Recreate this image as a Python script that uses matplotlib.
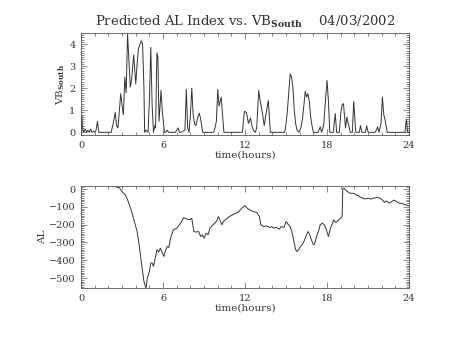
import matplotlib
matplotlib.use("Agg")
import matplotlib.pyplot as plt
from matplotlib.ticker import MultipleLocator

# Southward IMF-driven coupling term VB_south (hours, value)
vb_time = [0.00, 0.05, 0.10, 0.18, 0.30, 0.40, 0.50, 0.60, 0.70, 0.80, 0.90, 1.00,
           1.10, 1.20, 1.30, 1.50, 2.20, 2.35, 2.50, 2.60, 2.70, 2.90, 3.00, 3.10,
           3.20, 3.30, 3.40, 3.50, 3.60, 3.70, 3.85, 4.00, 4.10, 4.20, 4.40, 4.50,
           4.60, 4.65, 4.75, 4.90, 5.00, 5.10, 5.20, 5.30, 5.40, 5.45, 5.55, 5.62,
           5.70, 5.78, 5.85, 5.95, 6.10, 6.20, 6.30, 6.40, 6.90, 7.10, 7.20, 7.30,
           7.60, 7.70, 7.80, 7.90, 8.00, 8.10, 8.20, 8.30, 8.40, 8.55, 8.65, 8.75,
           8.90, 9.00, 9.70, 9.80, 9.90, 10.00, 10.10, 10.25, 10.35, 10.45, 10.60,
           11.80, 11.95, 12.10, 12.25, 12.40, 12.50, 12.60, 12.75, 12.85, 13.00,
           13.10, 13.25, 13.40, 13.55, 13.70, 13.85, 14.00, 14.90, 15.00, 15.10,
           15.20, 15.30, 15.40, 15.50, 15.60, 15.70, 15.80, 15.95, 16.10, 16.20,
           16.30, 16.40, 16.50, 16.60, 16.70, 16.80, 16.90, 17.00, 17.35, 17.50,
           17.60, 17.75, 17.90, 18.00, 18.10, 18.20, 18.45, 18.60, 18.70, 18.90,
           19.00, 19.10, 19.20, 19.35, 19.45, 19.55, 19.70, 19.85, 19.95, 20.10,
           20.35, 20.45, 20.55, 20.80, 20.90, 21.00, 21.50, 21.60, 21.70, 21.80,
           21.95, 22.05, 22.15, 22.25, 22.40, 22.55, 23.70, 23.80, 23.90, 24.00]
vb_value = [0.00, 0.80, 0.20, 0.00, 0.15, 0.00, 0.10, 0.00, 0.15, 0.00, 0.05, 0.00,
            0.10, 0.50, 0.00, 0.00, 0.00, 0.40, 0.90, 0.30, 0.20, 1.75, 1.20, 0.80,
            2.50, 1.80, 4.45, 3.20, 2.05, 2.40, 3.50, 2.20, 3.10, 3.80, 4.15, 4.00,
            2.00, 0.00, 0.10, 0.00, 1.50, 3.85, 1.20, 0.00, 0.30, 0.20, 3.60, 3.40,
            0.50, 1.20, 1.90, 0.90, 0.00, 0.00, 0.10, 0.00, 0.00, 0.20, 0.00, 0.00,
            0.10, 1.95, 0.20, 0.00, 0.80, 2.00, 0.80, 0.40, 0.30, 0.70, 0.87, 0.60,
            0.00, 0.00, 0.00, 0.20, 0.50, 1.95, 1.20, 1.60, 0.80, 0.00, 0.00,
            0.00, 0.95, 0.90, 0.40, 0.65, 0.30, 0.10, 0.00, 0.20, 1.90,
            1.45, 0.95, 0.30, 0.90, 1.45, 0.00, 0.00, 0.00, 0.40, 1.00,
            1.80, 2.65, 2.50, 2.05, 1.00, 0.40, 0.10, 0.00, 0.25, 0.60,
            1.20, 1.85, 1.60, 1.75, 1.40, 0.70, 0.30, 0.00, 0.00, 0.25,
            0.00, 0.30, 1.60, 2.35, 1.40, 0.00, 0.00, 0.85, 0.00, 0.00,
            0.85, 1.25, 1.30, 0.20, 0.70, 0.40, 0.00, 0.00, 1.40, 0.00,
            0.00, 0.30, 0.00, 0.00, 0.30, 0.00, 0.00, 0.10, 0.25, 0.00,
            0.40, 1.60, 0.80, 0.55, 0.00, 0.00, 0.00, 0.60, 0.00, 0.00]

# Predicted AL index (hours, nT)
al_time = [2.45, 2.65, 2.80, 3.00, 3.25, 3.45, 3.70, 3.90, 4.10, 4.25, 4.40, 4.60,
           4.75, 4.85, 5.00, 5.10, 5.20, 5.30, 5.45, 5.55, 5.68, 5.80, 5.95, 6.05,
           6.20, 6.30, 6.42, 6.55, 6.75, 7.00, 7.20, 7.35, 7.50, 7.70, 7.95, 8.10,
           8.25, 8.40, 8.60, 8.75, 8.88, 9.00, 9.15, 9.30, 9.42, 9.65, 9.90, 10.05,
           10.15, 10.30, 10.45, 10.65, 10.85, 11.00, 11.15, 11.50, 11.75, 12.00,
           12.15, 12.35, 12.60, 12.85, 13.05, 13.15, 13.35, 13.55, 13.80, 13.95,
           14.10, 14.30, 14.50, 14.65, 14.85, 15.00, 15.15, 15.30, 15.45, 15.58,
           15.70, 15.80, 15.92, 16.05, 16.18, 16.30, 16.50, 16.60, 16.72, 16.85,
           17.00, 17.08, 17.20, 17.40, 17.50, 17.65, 17.80, 17.95, 18.10, 18.25,
           18.40, 18.50, 18.60, 18.72, 18.85, 19.00, 19.10, 19.15, 19.25, 19.35,
           19.50, 19.70, 19.95, 20.15, 20.30, 20.45, 20.62, 20.80, 21.00, 21.20,
           21.40, 21.65, 21.90, 22.05, 22.20, 22.35, 22.55, 22.72, 22.90, 23.10,
           23.30, 23.45, 23.60, 23.75, 23.95]
al_value = [17, 10, 7, -15, -34, -71, -127, -183, -239, -313, -407, -519,
            -556, -500, -463, -416, -416, -435, -379, -341, -354, -332, -360, -379,
            -341, -323, -328, -276, -229, -220, -201, -183, -160, -168, -173, -164,
            -239, -242, -239, -267, -257, -276, -248, -257, -220, -201, -183, -155,
            -173, -201, -179, -168, -155, -149, -142, -131, -108, -93,
            -108, -118, -127, -131, -155, -201, -211, -207, -216, -211,
            -220, -216, -226, -211, -216, -183, -198, -211, -248, -295,
            -341, -351, -341, -323, -313, -295, -257, -239, -254, -285,
            -313, -310, -276, -229, -201, -192, -201, -229, -267, -220,
            -192, -173, -187, -183, -173, -164, -155, 4, 4, -6,
            -15, -24, -24, -34, -37, -48, -52, -56, -52, -56,
            -52, -48, -52, -62, -75, -67, -80, -71, -62, -71,
            -80, -80, -86, -90, -93]

x_ticks = [0, 6, 12, 18, 24]
vb_ticks = [0, 1, 2, 3, 4]
al_ticks = [0, -100, -200, -300, -400, -500]

plt.rcParams['font.family'] = ['DejaVu Serif']
plt.rcParams['mathtext.fontset'] = 'dejavuserif'

fig = plt.figure(figsize=(4.53, 3.40), dpi=100)
ax1 = fig.add_axes([0.179, 0.603, 0.724, 0.300])
ax2 = fig.add_axes([0.179, 0.153, 0.724, 0.300])

ax1.plot(vb_time, vb_value, color='#333333', lw=0.7)
ax2.plot(al_time, al_value, color='#333333', lw=0.7)

ax1.set_ylim(-0.12, 4.5)
ax2.set_ylim(-556, 17)

for ax in (ax1, ax2):
    ax.set_xlim(0, 24)
    ax.set_xticks(x_ticks)
    ax.xaxis.set_minor_locator(MultipleLocator(1))
    ax.tick_params(which='both', direction='in', top=True, right=True,
                   labelsize=7, width=0.5, color='#555555', pad=4,
                   labelcolor='#333333')
    ax.tick_params(which='major', length=4)
    ax.tick_params(which='minor', length=2)
    for s in ax.spines.values():
        s.set_linewidth(0.6)
        s.set_color('#555555')
    ax.set_xlabel('time(hours)', fontsize=7.5, labelpad=1, color='#333333')

ax1.set_yticks(vb_ticks)
ax1.yaxis.set_minor_locator(MultipleLocator(0.1))
ax2.set_yticks(al_ticks)
ax2.yaxis.set_minor_locator(MultipleLocator(10))

ax1.set_ylabel(r'VB$_{\mathbf{South}}$', fontsize=7.5, labelpad=2, color='#333333')
ax2.set_ylabel('AL', fontsize=7.5, labelpad=1, color='#333333')

fig.text(0.541, 0.925, r'Predicted AL Index vs. VB$_{\mathbf{South}}$    04/03/2002',
         ha='center', va='baseline', fontsize=9.5, color='#333333')

fig.savefig('out.png', dpi=100)
